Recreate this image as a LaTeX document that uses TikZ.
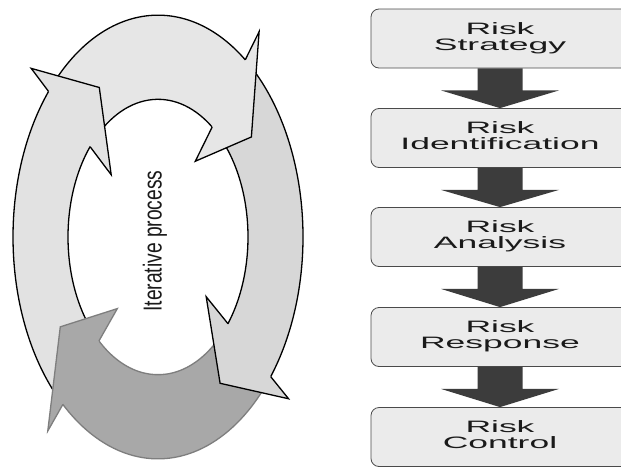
\documentclass[tikz,border=0pt]{standalone}
\usepackage{graphicx}
\usepackage{fontspec}
\setmainfont{Liberation Sans}
\usetikzlibrary{calc}
\definecolor{boxfill}{HTML}{EBEBEB}
\definecolor{boxline}{HTML}{4A4A4A}
\definecolor{flowc}{HTML}{3C3C3C}
\definecolor{ringT}{HTML}{E6E6E6}
\definecolor{ringL}{HTML}{E2E2E2}
\definecolor{ringR}{HTML}{D7D7D7}
\definecolor{ringB}{HTML}{A8A8A8}
\definecolor{ringBline}{HTML}{7E7E7E}
\definecolor{txtc}{HTML}{1A1A1A}
\newcommand\rtext[2]{\raisebox{-1.5pt}{\scalebox{2.15}[1]{\fontsize{16.5}{15}\selectfont\begin{tabular}{@{}c@{}}#1\\#2\end{tabular}}}}
\newcommand\ringbody[3]{\filldraw[#3] (#1:145) arc[start angle=#1, end angle=#2, radius=145] -- (#2:90) arc[start angle=#2, end angle=#1, radius=90] -- cycle;}
\newcommand\ringhead[2]{\filldraw[#2] (#1:145) -- (#1:168) -- ({#1-18}:114) -- (#1:62) -- (#1:90);}
\tikzset{
  riskbox/.style={rectangle, rounded corners=8pt, fill=boxfill, draw=boxline, line width=0.8pt,
    minimum width=258pt, minimum height=59pt, inner sep=0pt, text=txtc},
  flowarrow/.style={fill=flowc},
  ringline/.style={line width=1.3pt, draw=black, line join=miter},
}
\begin{document}
\begin{tikzpicture}[x=1pt,y=-1pt]
\useasboundingbox (0,0) rectangle (621,466);
\fill[white] (0,0) rectangle (621,466);
\clip (0,0) rectangle (621,466);

% cycle of four arrows
\begin{scope}[shift={(158,237)}, x=1pt, y=1.53pt]
  \ringbody{136}{51}{ringline, fill=ringT}
  \ringbody{50}{-41}{ringline, fill=ringR}
  \ringbody{-42}{-133}{ringline, draw=ringBline, fill=ringB}
  \ringbody{226}{137}{ringline, fill=ringL}
  \ringhead{53}{ringline, fill=ringT}
  \ringhead{-39}{ringline, fill=ringR}
  \ringhead{-131}{ringline, draw=ringBline, fill=ringB}
  \ringhead{139}{ringline, fill=ringL}
\end{scope}
\node[rotate=90, text=txtc, inner sep=0pt] (iter) at (155,241)
  {\scalebox{0.74}[1]{\fontsize{26}{26}\selectfont Iterative process}};

% risk process boxes
\node[riskbox] (b1) at (500,38.5) {\rtext{Risk}{Strategy}};
\node[riskbox] (b2) at (500,138) {\rtext{Risk}{Identification}};
\node[riskbox] (b3) at (500,237) {\rtext{Risk}{Analysis}};
\node[riskbox] (b4) at (500,337) {\rtext{Risk}{Response}};
\node[riskbox] (b5) at (500,437) {\rtext{Risk}{Control}};

\foreach \a/\b in {b1/b2, b2/b3, b3/b4, b4/b5}{
  \fill[flowarrow] ($(\a.south)+(-22.5,0)$) -- ($(\a.south)+(-22.5,22)$) -- ($(\a.south)+(-59,22)$)
    -- (\b.north) -- ($(\a.south)+(59,22)$) -- ($(\a.south)+(22.5,22)$) -- ($(\a.south)+(22.5,0)$) -- cycle;
}
\end{tikzpicture}
\end{document}
